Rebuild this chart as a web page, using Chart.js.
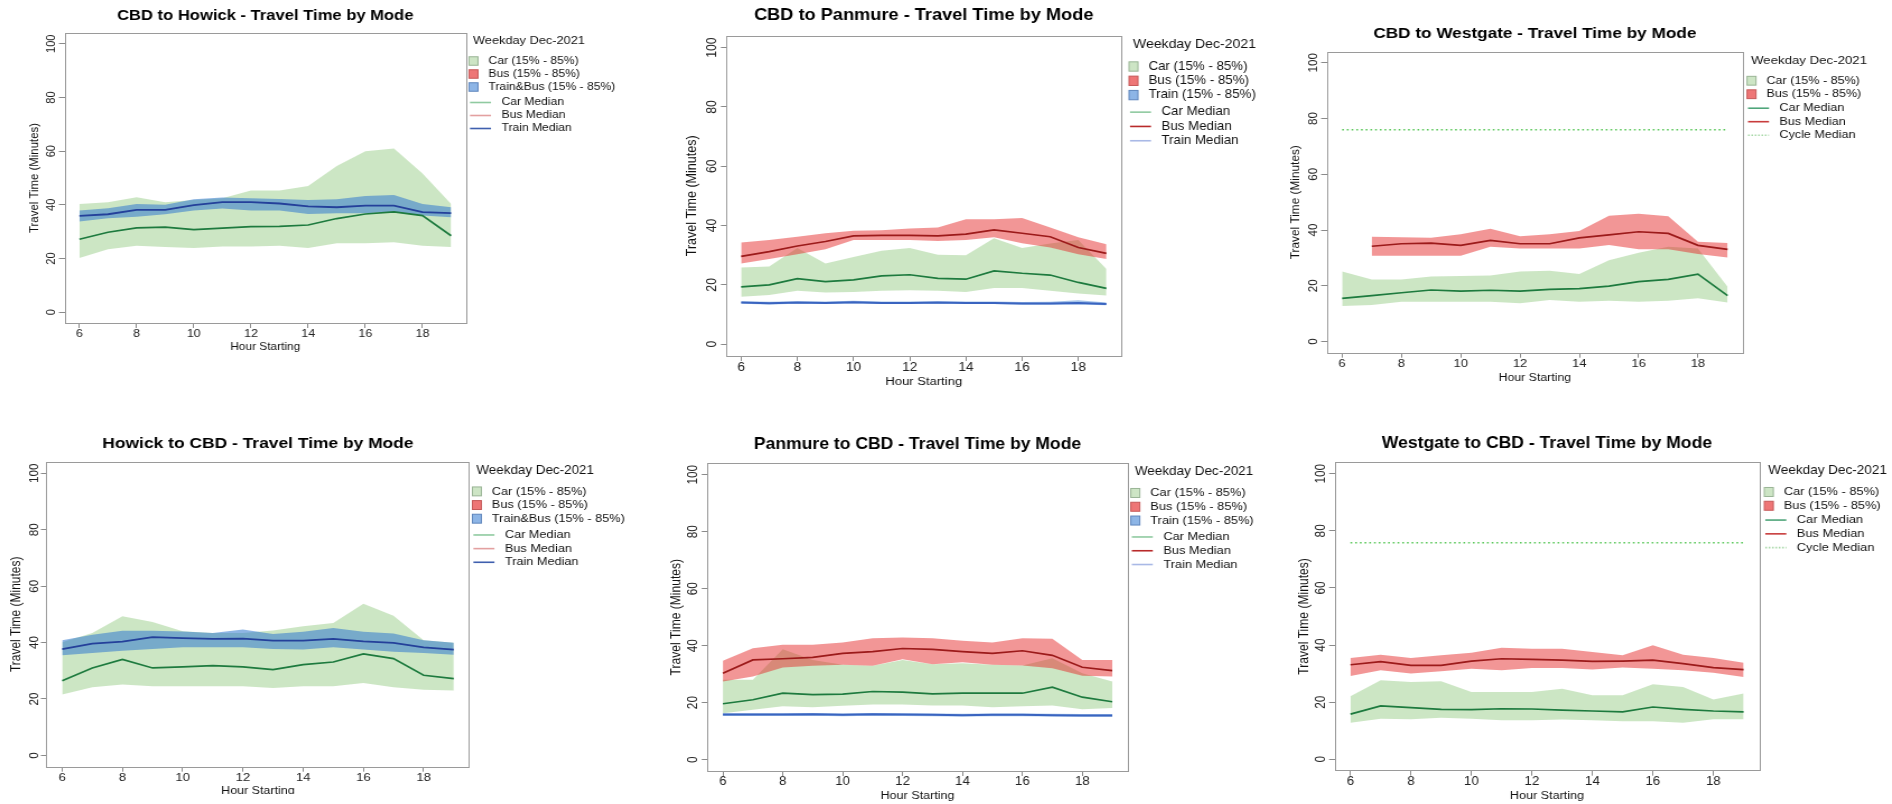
<!DOCTYPE html>
<html>
<head>
<meta charset="utf-8">
<script src="https://cdn.jsdelivr.net/npm/chart.js@4.4.1/dist/chart.umd.min.js"></script>
<style>
  body { margin: 0; background: #fff; width: 1892px; height: 804px; overflow: hidden; position: relative; }
  canvas { position: absolute; }
</style>
</head>
<body>
<canvas id="p1"></canvas>
<canvas id="p2"></canvas>
<canvas id="p3"></canvas>
<canvas id="p4"></canvas>
<canvas id="p5"></canvas>
<canvas id="p6"></canvas>
<script>
// ---- shared labels / ticks ----
const HOURS = [6, 7, 8, 9, 10, 11, 12, 13, 14, 15, 16, 17, 18, 19];
const X_TICKS = [6, 8, 10, 12, 14, 16, 18];
const Y_TICKS = [0, 20, 40, 60, 80, 100];
const X_TITLE = 'Hour Starting';
const Y_TITLE = 'Travel Time (Minutes)';
const LEGEND_TITLE = 'Weekday Dec-2021';
const BANDS_HOWICK = ['Car (15% - 85%)', 'Bus (15% - 85%)', 'Train&Bus (15% - 85%)'];
const BANDS_PANMURE = ['Car (15% - 85%)', 'Bus (15% - 85%)', 'Train (15% - 85%)'];
const BANDS_WESTGATE = ['Car (15% - 85%)', 'Bus (15% - 85%)'];
const MEDIANS = ['Car Median', 'Bus Median', 'Train Median'];
const MEDIANS_WESTGATE = ['Car Median', 'Bus Median', 'Cycle Median'];

// ---- CBD to Howick ----
const cbdHowickCarLow = [20.2, 23.5, 24.8, 24.3, 23.9, 24.5, 24.5, 24.8, 23.9, 25.7, 25.7, 26.1, 24.8, 24.3];
const cbdHowickCarHigh = [40.3, 41, 42.8, 41, 41.8, 42.5, 45.3, 45.3, 47, 54.5, 60, 61, 51.7, 40.3];
const cbdHowickCarMed = [27.2, 29.8, 31.4, 31.7, 30.8, 31.3, 31.9, 32, 32.5, 34.9, 36.6, 37.4, 36, 28.5];
const cbdHowickTrainLow = [33.8, 35, 35.6, 36.5, 37.9, 38.6, 37.9, 37.9, 36.6, 36.9, 36.9, 37.4, 36, 35.4];
const cbdHowickTrainHigh = [37.9, 38.7, 40.3, 40, 42.1, 42.7, 42.5, 42.2, 41.8, 42.1, 43.3, 43.7, 40.3, 39.1];
const cbdHowickTrainMed = [35.9, 36.5, 38.1, 38.1, 39.9, 41, 41, 40.5, 39.4, 39.1, 39.7, 39.7, 37.3, 36.9];

// ---- CBD to Panmure ----
const cbdPanmureBusLow = [27.2, 28.7, 30.3, 32, 35.1, 35.1, 35.1, 34.8, 35.1, 36, 34, 32.6, 30.3, 28.7];
const cbdPanmureBusHigh = [34.3, 35.1, 36.2, 37.4, 38.2, 38.4, 39, 39.3, 42.1, 42.1, 42.5, 39.3, 36, 33.7];
const cbdPanmureBusMed = [29.6, 31.2, 33.1, 34.6, 36.5, 36.7, 36.7, 36.5, 37.1, 38.5, 37.4, 36.2, 32.6, 30.6];
const cbdPanmureCarLow = [16, 16.6, 18, 17.4, 17.6, 18, 18.2, 18, 17.6, 18.9, 18.9, 18, 17.1, 16.4];
const cbdPanmureCarHigh = [25.8, 26.2, 32.4, 27.2, 29.4, 31.5, 32.4, 30.1, 30, 35.7, 32.4, 33.9, 35.1, 25.3];
const cbdPanmureCarMed = [19.3, 20, 22.1, 21.1, 21.7, 23, 23.4, 22.2, 21.9, 24.7, 23.9, 23.3, 20.8, 18.8];
const cbdPanmureTrainLow = [13.6, 13.4, 13.6, 13.5, 13.7, 13.5, 13.5, 13.6, 13.5, 13.5, 13.3, 13.3, 13.4, 13.1];
const cbdPanmureTrainHigh = [14.5, 14.3, 14.5, 14.4, 14.6, 14.4, 14.4, 14.5, 14.4, 14.4, 14.2, 14.3, 14.8, 14];
const cbdPanmureTrainMed = [14, 13.8, 14, 13.9, 14.1, 13.9, 13.9, 14, 13.9, 13.9, 13.7, 13.7, 13.9, 13.5];

// ---- CBD to Westgate ----
const cbdWestgateBusLow = [null, 30.8, 30.8, 30.8, 30.8, 34, 33.4, 33.4, 33.4, 34.6, 33.1, 33.1, 31.4, 30.2];
const cbdWestgateBusHigh = [null, 37.6, 37.4, 37.2, 38.5, 40.5, 37.8, 38.5, 39.7, 45.1, 45.9, 45, 35.8, 35.4];
const cbdWestgateBusMed = [null, 34.2, 35.1, 35.3, 34.5, 36.3, 35.1, 35.1, 37.2, 38.3, 39.4, 38.8, 34.5, 33.1];
const cbdWestgateCarLow = [12.8, 13.1, 14.3, 14.3, 14.3, 14.3, 13.7, 14.9, 14.3, 14.6, 14.3, 14.6, 15.5, 14];
const cbdWestgateCarHigh = [25.1, 22.3, 22.3, 23.3, 23.5, 23.7, 25.1, 25.4, 24.2, 29.2, 31.9, 34, 33.4, 19.7];
const cbdWestgateCarMed = [15.5, 16.5, 17.5, 18.5, 18.1, 18.4, 18.1, 18.7, 19, 19.9, 21.5, 22.3, 24.2, 16.5];
const cbdWestgateCycleMed = [76, 76, 76, 76, 76, 76, 76, 76, 76, 76, 76, 76, 76, 76];

// ---- Howick to CBD ----
const howickCbdCarLow = [21.6, 24.2, 25.1, 24.5, 24.5, 24.5, 24.5, 23.9, 24.5, 24.5, 25.7, 24.2, 23.3, 23];
const howickCbdCarHigh = [40.1, 43.4, 49.3, 47.3, 44, 43.4, 43.4, 44.3, 45.8, 46.9, 53.8, 49.5, 40.8, 39.9];
const howickCbdCarMed = [26.5, 31, 34, 31, 31.4, 31.8, 31.4, 30.4, 32.2, 33.1, 36, 34.3, 28.4, 27.2];
const howickCbdTrainLow = [35.5, 36.3, 37.1, 37.7, 38.3, 38.3, 38.3, 37.7, 37.5, 38.3, 37.5, 36.7, 36.3, 35.7];
const howickCbdTrainHigh = [40.8, 42.8, 44.2, 44.2, 43.9, 43.4, 44.6, 43, 43.8, 45.2, 43.8, 43.2, 40.8, 39.9];
const howickCbdTrainMed = [37.7, 39.6, 40.3, 41.9, 41.6, 41.3, 41.4, 40.7, 40.7, 41.3, 40.4, 39.9, 38.3, 37.5];

// ---- Panmure to CBD ----
const panmureCbdBusLow = [27.4, 29.2, 32.3, 32.9, 33.3, 32.9, 35.2, 33.5, 34.2, 33.3, 33, 32.1, 29.4, 29.2];
const panmureCbdBusHigh = [34.7, 39.1, 40.3, 40.3, 41.1, 42.6, 42.9, 42.6, 41.7, 41.1, 42.6, 42.4, 35, 35];
const panmureCbdBusMed = [30.3, 35, 35.4, 35.9, 37.3, 37.9, 39, 38.7, 37.9, 37.3, 38.2, 36.6, 32.4, 31.2];
const panmureCbdCarLow = [16.3, 17.5, 18.7, 18.4, 18.9, 19.3, 19.3, 19, 19, 18.4, 18.7, 19, 17.7, 18.1];
const panmureCbdCarHigh = [28, 28, 38.7, 35, 33.3, 32.9, 35, 33.5, 33.8, 33.3, 33, 35.6, 30.3, 27.4];
const panmureCbdCarMed = [19.6, 21, 23.3, 22.8, 23, 23.9, 23.7, 23.1, 23.3, 23.3, 23.3, 25.4, 21.9, 20.3];
const panmureCbdTrainLow = [15.3, 15.3, 15.3, 15.4, 15.2, 15.4, 15.3, 15.2, 15.1, 15.2, 15.2, 15.1, 15, 15];
const panmureCbdTrainHigh = [16.3, 16.3, 16.3, 16.4, 16.2, 16.4, 16.3, 16.2, 16.1, 16.2, 16.2, 16.1, 16, 16];
const panmureCbdTrainMed = [15.8, 15.8, 15.8, 15.9, 15.7, 15.9, 15.8, 15.7, 15.6, 15.7, 15.7, 15.6, 15.5, 15.5];

// ---- Westgate to CBD ----
const westgateCbdBusLow = [29.2, 31.2, 30, 30.8, 31.7, 31.2, 32, 32, 31.4, 32.1, 31.7, 31.2, 30.3, 28.8];
const westgateCbdBusHigh = [35.5, 36.6, 35.5, 36.4, 37.3, 39.1, 38.7, 38.7, 37.6, 36.4, 39.9, 36.6, 35.5, 33.8];
const westgateCbdBusMed = [33.1, 34.2, 32.9, 32.9, 34.4, 35.2, 35, 34.7, 34.3, 34.4, 34.7, 33.5, 32.1, 31.4];
const westgateCbdCarLow = [12.8, 14.2, 14, 14.5, 14.2, 13.7, 13.7, 13.9, 13.7, 13.3, 13.3, 12.8, 14, 14];
const westgateCbdCarHigh = [22.1, 27.7, 27.1, 27.3, 23.6, 23.6, 23.6, 24.7, 22.4, 22.4, 26.3, 25.3, 20.9, 23];
const westgateCbdCarMed = [15.8, 18.7, 18.1, 17.5, 17.4, 17.7, 17.6, 17.2, 16.9, 16.6, 18.3, 17.5, 16.9, 16.6];
const westgateCbdCycleMed = [75.8, 75.8, 75.8, 75.8, 75.8, 75.8, 75.8, 75.8, 75.8, 75.8, 75.8, 75.8, 75.8, 75.8];

// ---- styling ----
const FONT = "'Liberation Sans', Arial, Helvetica, sans-serif";
const SX = 1.12; // the original images are stretched sideways a little

const GREEN_BAND = 'rgba(120, 190, 100, 0.38)';
const RED_BAND = 'rgba(228, 40, 40, 0.49)';
const BLUE_BAND = 'rgba(50, 120, 205, 0.55)';
const THIN_BLUE_BAND = 'rgba(50, 120, 205, 0.45)';
const CAR_LINE = '#1d7a3e';
const BUS_LINE = '#9c1a1a';

const SQ_CAR = { fill: '#cde5c5', stroke: '#9ab596' };
const SQ_BUS = { fill: '#ee7676', stroke: '#c65a5a' };
const SQ_TRAIN = { fill: '#8db5e6', stroke: '#5f86bd' };

Chart.defaults.font.family = FONT;
Chart.defaults.color = '#111';
Chart.defaults.animation = false;

function pts(arr) {
  return HOURS.map((h, i) => ({ x: h, y: arr[i] }));
}

function band(low, high, color, order) {
  return [
    { data: pts(low), borderColor: 'transparent', borderWidth: 0, pointRadius: 0, fill: false, order },
    { data: pts(high), borderColor: 'transparent', borderWidth: 0, pointRadius: 0, fill: '-1', backgroundColor: color, order },
  ];
}

function median(arr, color, width, dash) {
  return { data: pts(arr), borderColor: color, borderWidth: width, borderDash: dash || [], pointRadius: 0, fill: false, tension: 0, order: 0 };
}

const plotBox = {
  id: 'plotBox',
  afterDatasetsDraw(chart) {
    const { ctx, chartArea: a } = chart;
    ctx.save();
    ctx.strokeStyle = '#9a9a9a';
    ctx.lineWidth = 1;
    ctx.strokeRect(Math.round(a.left) + 0.5, Math.round(a.top) + 0.5, Math.round(a.right - a.left), Math.round(a.bottom - a.top));
    ctx.restore();
  },
};

const rotatedYLabels = {
  id: 'rotatedYLabels',
  afterDraw(chart, args, opts) {
    const { ctx } = chart;
    const y = chart.scales.y;
    ctx.save();
    ctx.font = opts.size + 'px ' + FONT;
    ctx.fillStyle = '#222';
    ctx.textAlign = 'center';
    ctx.textBaseline = 'middle';
    Y_TICKS.forEach(v => {
      ctx.save();
      ctx.translate(opts.x, y.getPixelForValue(v));
      ctx.rotate(-Math.PI / 2);
      ctx.fillText(String(v), 0, 0);
      ctx.restore();
    });
    ctx.restore();
  },
};

const sideLegend = {
  id: 'sideLegend',
  afterDraw(chart, args, opts) {
    const { ctx, chartArea } = chart;
    const { s, k, items } = opts;
    const lx = chartArea.right + opts.dx;
    const top = chartArea.top;
    const nBox = items.filter(it => it.type === 'box').length;
    ctx.save();
    ctx.textAlign = 'left';
    ctx.textBaseline = 'middle';
    ctx.fillStyle = '#111';
    ctx.font = (11.4 * s) + 'px ' + FONT;
    ctx.fillText(LEGEND_TITLE, lx + 4 / k, top + 8.3 * s);
    ctx.font = (10.8 * s) + 'px ' + FONT;
    items.forEach((it, i) => {
      const gap = i >= nBox ? (nBox === 3 ? 2.5 : 0.5) : 0;
      const yy = top + s * (28 + 13 * i + gap);
      if (it.type === 'box') {
        const bw = 9 / k;
        const bh = 8.5 * s;
        ctx.fillStyle = it.fill;
        ctx.fillRect(lx, yy - bh / 2, bw, bh);
        ctx.strokeStyle = it.stroke;
        ctx.lineWidth = 1;
        ctx.strokeRect(lx, yy - bh / 2, bw, bh);
        ctx.fillStyle = '#111';
        ctx.fillText(it.label, lx + 19.5 / k, yy);
      } else {
        ctx.strokeStyle = it.color;
        ctx.lineWidth = 1.6;
        ctx.setLineDash(it.dash || []);
        ctx.beginPath();
        ctx.moveTo(lx + 1 / k, yy);
        ctx.lineTo(lx + 22 / k, yy);
        ctx.stroke();
        ctx.setLineDash([]);
        ctx.fillStyle = '#111';
        ctx.fillText(it.label, lx + 32.5 / k, yy);
      }
    });
    ctx.restore();
  },
};

function legendItems(bandLabels, squares, medianLabels, lineColors, dashes) {
  const items = bandLabels.map((label, i) => ({ type: 'box', label, fill: squares[i].fill, stroke: squares[i].stroke }));
  medianLabels.forEach((label, i) => items.push({ type: 'line', label, color: lineColors[i], dash: dashes ? dashes[i] : null }));
  return items;
}

function buildPanel(id, lay, title, datasets, items) {
  const canvas = document.getElementById(id);
  const cw = Math.round(lay.w / SX);
  const k = lay.w / cw;
  canvas.width = cw;
  canvas.height = lay.h;
  canvas.style.left = lay.x0 + 'px';
  canvas.style.top = lay.y0 + 'px';
  canvas.style.width = lay.w + 'px';
  canvas.style.height = lay.h + 'px';

  const s = lay.s;
  const titleSize = 14.8 * s;
  const titleLh = titleSize * 1.2;
  const titlePadTop = (lay.titleY - lay.y0) - titleLh / 2;
  const titlePadBottom = (lay.T - lay.y0) - titlePadTop - titleLh;
  const xTitleSize = 10.6 * s;
  const yTitleSize = 11.4 * s;
  const tickSize = 11.2 * s;
  const xHeight = lay.y0 + lay.h - lay.B;
  const yWidth = (lay.L - lay.x0) / k;
  const tickGrid = { display: true, drawOnChartArea: false, drawTicks: true, tickLength: 5, color: '#8a8a8a', lineWidth: 1 };

  new Chart(canvas, {
    type: 'line',
    data: { datasets },
    options: {
      responsive: false,
      devicePixelRatio: 1,
      animation: false,
      layout: { padding: { left: 0, top: 0, bottom: 0, right: (lay.x0 + lay.w - lay.R) / k } },
      plugins: {
        legend: { display: false },
        tooltip: { enabled: false },
        title: {
          display: true,
          text: title,
          fullSize: false,
          color: '#000',
          font: { size: titleSize, weight: 'bold', lineHeight: 1.2 },
          padding: { top: titlePadTop, bottom: titlePadBottom },
        },
        rotatedYLabels: { x: (lay.yTickX - lay.x0) / k, size: tickSize },
        sideLegend: { dx: lay.legDx / k, s, k, items },
      },
      scales: {
        x: {
          type: 'linear',
          min: 5.48,
          max: 19.52,
          afterBuildTicks: sc => { sc.ticks = X_TICKS.map(v => ({ value: v })); },
          afterFit: sc => { sc.height = xHeight; },
          grid: tickGrid,
          border: { display: false },
          ticks: { font: { size: tickSize }, color: '#222', padding: -1, maxRotation: 0, autoSkip: false },
          title: {
            display: true,
            text: X_TITLE,
            color: '#111',
            font: { size: xTitleSize, lineHeight: 1.2 },
            padding: { top: 0, bottom: lay.y0 + lay.h - lay.xTitleY - xTitleSize * 0.6 },
          },
        },
        y: {
          type: 'linear',
          min: -4,
          max: 104,
          afterBuildTicks: sc => { sc.ticks = Y_TICKS.map(v => ({ value: v })); },
          afterFit: sc => { sc.width = yWidth; },
          grid: tickGrid,
          border: { display: false },
          ticks: { display: false },
          title: {
            display: true,
            text: Y_TITLE,
            color: '#111',
            font: { size: yTitleSize, lineHeight: 1.2 },
            padding: { top: (lay.yTitleX - lay.x0) / k - yTitleSize * 0.6, bottom: 0 },
          },
        },
      },
    },
    plugins: [plotBox, rotatedYLabels, sideLegend],
  });
}

// panel frames, in page pixels
const LAYOUT = {
  p1: { x0: 0, y0: 0, w: 640, h: 400, L: 64.5, R: 466, T: 33, B: 323, titleY: 15.7, yTitleX: 35, yTickX: 52, xTitleY: 347, s: 1, legDx: 3 },
  p2: { x0: 640, y0: 0, w: 630, h: 400, L: 726.5, R: 1121, T: 35.7, B: 356, titleY: 15.7, yTitleX: 692, yTickX: 712.7, xTitleY: 381.7, s: 1.1, legDx: 8 },
  p3: { x0: 1270, y0: 0, w: 622, h: 400, L: 1326.7, R: 1743, T: 51.7, B: 352.7, titleY: 33.3, yTitleX: 1296, yTickX: 1313, xTitleY: 377.7, s: 1.037, legDx: 4 },
  p4: { x0: 0, y0: 410, w: 640, h: 384, L: 46.5, R: 469.4, T: 462, B: 766.7, titleY: 444, yTitleX: 17, yTickX: 34.7, xTitleY: 790.7, s: 1.05, legDx: 3 },
  p5: { x0: 640, y0: 410, w: 630, h: 394, L: 707.3, R: 1127.8, T: 463.3, B: 771, titleY: 445, yTitleX: 677, yTickX: 693, xTitleY: 796, s: 1.06, legDx: 3 },
  p6: { x0: 1270, y0: 410, w: 622, h: 394, L: 1334.7, R: 1759.3, T: 462.3, B: 770.7, titleY: 444, yTitleX: 1304, yTickX: 1321.6, xTitleY: 795.7, s: 1.06, legDx: 5 },
};

const howickLegend = legendItems(BANDS_HOWICK, [SQ_CAR, SQ_BUS, SQ_TRAIN], MEDIANS, ['#8fcaa0', '#e3a0a0', '#3f5fae']);
const panmureLegend = legendItems(BANDS_PANMURE, [SQ_CAR, SQ_BUS, SQ_TRAIN], MEDIANS, ['#8fcaa0', '#b82a2a', '#a9b9e6']);
const westgateLegend = legendItems(BANDS_WESTGATE, [SQ_CAR, SQ_BUS], MEDIANS_WESTGATE, ['#4fa57a', '#c83c3c', '#a8d8a8'], [null, null, [1.5, 1.5]]);

buildPanel('p1', LAYOUT.p1, 'CBD to Howick - Travel Time by Mode', [
  ...band(cbdHowickCarLow, cbdHowickCarHigh, GREEN_BAND, 3),
  ...band(cbdHowickTrainLow, cbdHowickTrainHigh, BLUE_BAND, 1),
  median(cbdHowickCarMed, CAR_LINE, 1.7),
  median(cbdHowickTrainMed, '#24409a', 1.8),
], howickLegend);

buildPanel('p2', LAYOUT.p2, 'CBD to Panmure - Travel Time by Mode', [
  ...band(cbdPanmureCarLow, cbdPanmureCarHigh, GREEN_BAND, 3),
  ...band(cbdPanmureBusLow, cbdPanmureBusHigh, RED_BAND, 2),
  ...band(cbdPanmureTrainLow, cbdPanmureTrainHigh, THIN_BLUE_BAND, 1),
  median(cbdPanmureCarMed, CAR_LINE, 1.7),
  median(cbdPanmureBusMed, BUS_LINE, 1.7),
  median(cbdPanmureTrainMed, '#3a64c0', 2),
], panmureLegend);

buildPanel('p3', LAYOUT.p3, 'CBD to Westgate - Travel Time by Mode', [
  ...band(cbdWestgateCarLow, cbdWestgateCarHigh, GREEN_BAND, 3),
  ...band(cbdWestgateBusLow, cbdWestgateBusHigh, RED_BAND, 2),
  median(cbdWestgateCarMed, CAR_LINE, 1.7),
  median(cbdWestgateBusMed, BUS_LINE, 1.7),
  median(cbdWestgateCycleMed, '#5cc85c', 1.5, [1.6, 2.6]),
], westgateLegend);

buildPanel('p4', LAYOUT.p4, 'Howick to CBD - Travel Time by Mode', [
  ...band(howickCbdCarLow, howickCbdCarHigh, GREEN_BAND, 3),
  ...band(howickCbdTrainLow, howickCbdTrainHigh, BLUE_BAND, 1),
  median(howickCbdCarMed, CAR_LINE, 1.7),
  median(howickCbdTrainMed, '#24409a', 1.8),
], howickLegend);

buildPanel('p5', LAYOUT.p5, 'Panmure to CBD - Travel Time by Mode', [
  ...band(panmureCbdCarLow, panmureCbdCarHigh, GREEN_BAND, 3),
  ...band(panmureCbdBusLow, panmureCbdBusHigh, RED_BAND, 2),
  ...band(panmureCbdTrainLow, panmureCbdTrainHigh, THIN_BLUE_BAND, 1),
  median(panmureCbdCarMed, CAR_LINE, 1.7),
  median(panmureCbdBusMed, BUS_LINE, 1.7),
  median(panmureCbdTrainMed, '#3a64c0', 2),
], panmureLegend);

buildPanel('p6', LAYOUT.p6, 'Westgate to CBD - Travel Time by Mode', [
  ...band(westgateCbdCarLow, westgateCbdCarHigh, GREEN_BAND, 3),
  ...band(westgateCbdBusLow, westgateCbdBusHigh, RED_BAND, 2),
  median(westgateCbdCarMed, CAR_LINE, 1.7),
  median(westgateCbdBusMed, BUS_LINE, 1.7),
  median(westgateCbdCycleMed, '#5cc85c', 1.5, [1.6, 2.6]),
], westgateLegend);
</script>
</body>
</html>
